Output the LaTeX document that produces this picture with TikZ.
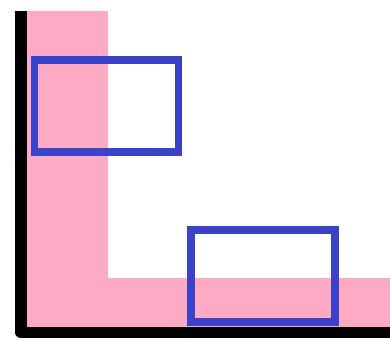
\documentclass[tikz,border=0pt]{standalone}
\definecolor{pinkband}{RGB}{255,170,196}
\definecolor{boxblue}{RGB}{58,66,200}
\tikzset{
  band/.style={fill=pinkband, draw=none},
  axis/.style={draw=black, line width=11.5pt, line join=round},
  bluebox/.style={draw=boxblue, line width=7.5pt, fill=none, inner sep=0pt, minimum width=144pt, minimum height=92pt}
}
\begin{document}
\begin{tikzpicture}[x=1pt,y=-1pt]
\useasboundingbox (0,0) rectangle (390,340);
\fill[band] (21,10.7) rectangle (108.3,332);
\fill[band] (21,277.5) rectangle (390,332);
\draw[axis] (21,10.7) -- (21,332.5) -- (390,332.5);
\node[bluebox] (boxA) at (106.4,106) {};
\node[bluebox] (boxB) at (263,275.8) {};
\end{tikzpicture}
\end{document}
